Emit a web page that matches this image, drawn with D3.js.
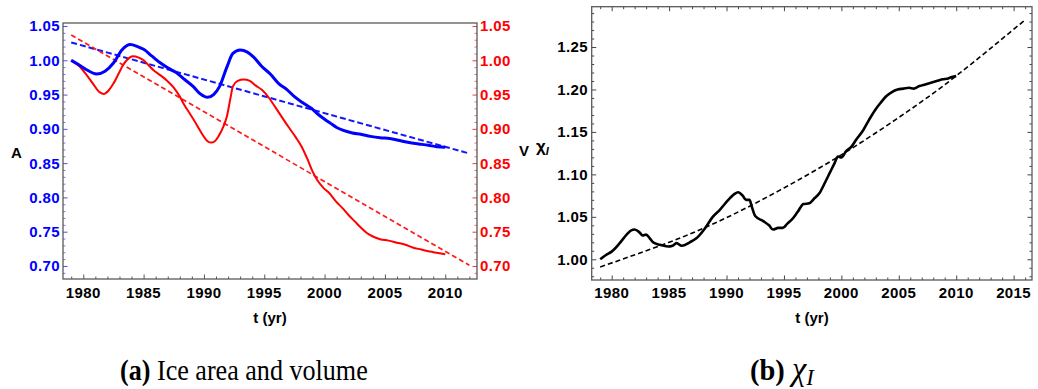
<!DOCTYPE html>
<html>
<head>
<meta charset="utf-8">
<script src="https://cdn.jsdelivr.net/npm/d3@7"></script>
<style>
  body { margin: 0; background: #fff; }
  text { font-family: "Liberation Sans", Arial, sans-serif; }
</style>
</head>
<body>
<svg id="fig" width="1038" height="389"></svg>
<script>

// ---- data ----
var areaData = [[1979.0,1.000],[1979.5,0.995],[1980.2,0.987],[1981.1,0.980],[1981.8,0.984],[1982.5,0.996],
  [1983.2,1.015],[1983.9,1.023],[1984.5,1.020],[1985.0,1.016],[1985.7,1.006],[1986.4,0.996],[1987.0,0.989],
  [1987.7,0.982],[1988.4,0.972],[1989.1,0.962],[1989.7,0.951],[1990.3,0.946],[1990.8,0.950],[1991.3,0.962],
  [1991.9,0.990],[1992.4,1.010],[1993.0,1.015],[1993.6,1.012],[1994.1,1.005],[1994.8,0.991],[1995.5,0.980],
  [1996.2,0.966],[1996.9,0.957],[1997.5,0.947],[1998.2,0.938],[1998.9,0.930],[1999.4,0.922],[2000.0,0.914],
  [2000.5,0.908],[2001.0,0.902],[2001.5,0.898],[2002.3,0.894],[2003.0,0.892],[2003.8,0.889],[2004.6,0.887],
  [2005.4,0.886],[2006.2,0.883],[2007.0,0.880],[2007.8,0.878],[2008.6,0.876],[2009.3,0.874],[2010.0,0.873]];

var volData = [[1979.0,1.000],[1979.7,0.991],[1980.3,0.978],[1980.8,0.966],[1981.3,0.954],[1981.7,0.951],
  [1982.1,0.956],[1982.5,0.966],[1983.0,0.983],[1983.3,0.993],[1983.6,1.000],[1984.1,1.006],[1984.6,1.004],
  [1985.0,1.000],[1985.4,0.993],[1985.8,0.986],[1986.4,0.978],[1986.9,0.971],[1987.5,0.960],[1988.0,0.947],
  [1988.4,0.934],[1988.8,0.923],[1989.4,0.906],[1989.9,0.891],[1990.3,0.882],[1990.6,0.880],[1990.9,0.882],
  [1991.2,0.889],[1991.6,0.903],[1991.9,0.918],[1992.2,0.945],[1992.4,0.962],[1992.8,0.970],[1993.3,0.972],
  [1993.8,0.970],[1994.3,0.963],[1994.8,0.957],[1995.4,0.945],[1995.9,0.932],[1996.5,0.916],[1997.0,0.903],
  [1997.6,0.888],[1998.1,0.874],[1998.6,0.855],[1999.0,0.838],[1999.4,0.825],[1999.9,0.814],[2000.4,0.806],
  [2000.9,0.795],[2001.5,0.784],[2002.0,0.774],[2002.5,0.765],[2003.0,0.756],[2003.5,0.748],[2004.0,0.743],
  [2004.6,0.739],[2005.3,0.737],[2006.0,0.734],[2006.7,0.731],[2007.3,0.727],[2008.0,0.724],[2008.7,0.721],
  [2009.4,0.719],[2010.0,0.717]];

var areaFit = [[1979,1.026],[2012,0.864]];
var volFit  = [[1979,1.037],[2012,0.701]];

var chiData = [[1979.0,1.000],[1979.5,1.005],[1980.0,1.009],[1980.7,1.019],[1981.3,1.029],[1981.7,1.034],
  [1982.0,1.035],[1982.4,1.032],[1982.7,1.028],[1983.0,1.029],[1983.3,1.025],[1983.6,1.020],[1984.2,1.017],
  [1984.9,1.015],[1985.3,1.016],[1985.65,1.019],[1986.1,1.016],[1986.8,1.020],[1987.4,1.025],[1988.1,1.036],
  [1988.8,1.050],[1989.4,1.058],[1989.9,1.066],[1990.3,1.072],[1990.7,1.077],[1991.0,1.079],[1991.4,1.075],
  [1991.7,1.070],[1992.0,1.070],[1992.2,1.062],[1992.5,1.051],[1993.2,1.045],[1993.7,1.040],[1994.05,1.035],
  [1994.5,1.037],[1994.9,1.037],[1995.3,1.042],[1995.7,1.047],[1996.2,1.056],[1996.7,1.065],[1997.2,1.066],
  [1997.6,1.071],[1998.1,1.078],[1998.6,1.091],[1999.0,1.102],[1999.4,1.113],[1999.7,1.121],[2000.0,1.120],
  [2000.4,1.127],[2000.9,1.133],[2001.3,1.141],[2001.9,1.152],[2002.4,1.164],[2002.9,1.175],[2003.4,1.184],
  [2003.9,1.192],[2004.4,1.197],[2004.9,1.200],[2005.4,1.201],[2005.9,1.202],[2006.3,1.201],[2006.8,1.204],
  [2007.3,1.206],[2007.8,1.208],[2008.3,1.210],[2008.8,1.212],[2009.3,1.213],[2009.7,1.215],[2010.0,1.216]];

var chiFit = [[1979,0.991],[1985,1.020],[1990,1.049],[1995,1.084],[2000,1.123],[2005,1.167],[2010,1.216],[2016,1.282]];

var yearTicksA = [1980,1985,1990,1995,2000,2005,2010];
var yearTicksB = [1980,1985,1990,1995,2000,2005,2010,2015];
var valTicksA  = [0.70,0.75,0.80,0.85,0.90,0.95,1.00,1.05];
var valTicksB  = [1.00,1.05,1.10,1.15,1.20,1.25];

var svg = d3.select("#fig");
var fmt = d3.format(".2f");

function minor_list(lo, hi, step, majors){
    var res = [];
    for( var i = Math.round(lo/step); i <= Math.round(hi/step); i++ ){
        var v = +(i*step).toFixed(4);
        if( majors.indexOf(v) < 0 ) res.push(v);
    }
    return res;
}

// inward pointing ticks (mathematica frame style)
function draw_ticks( kind, scale, vals, len, x0, y0, color ){
    var g = svg.append("g")
        .attr("transform", "translate(" + x0 + "," + y0 + ")")
        .call( kind(scale).tickValues(vals).tickSize(-len).tickFormat("") );
    g.select(".domain").remove();
    g.selectAll("line").attr("stroke", color).attr("stroke-width", 1);
    return g;
}

function draw_labels( vals, xf, yf, txt, color, anchor, dy ){
    svg.append("g").selectAll("text")
        .data(vals)
        .enter().append("text")
        .attr("x", xf).attr("y", yf)
        .attr("dy", dy)
        .attr("text-anchor", anchor)
        .style("font-size", "15px")
        .style("font-weight", "bold")
        .style("letter-spacing", "0.4px")
        .style("fill", color)
        .text(txt);
}

function draw_line( data, x, y, color, width, dash, curve ){
    var line = d3.line().curve(curve || d3.curveMonotoneX)
        .x(function(d){ return x(d[0]); })
        .y(function(d){ return y(d[1]); });
    var p = svg.append("path")
        .attr("d", line(data))
        .attr("fill", "none")
        .attr("stroke", color)
        .attr("stroke-width", width)
        .attr("stroke-linejoin", "round");
    if( dash ) p.attr("stroke-dasharray", dash);
    return p;
}

// ================= panel (a) =================
var xA = d3.scaleLinear().domain([1978.32, 2012.63]).range([63, 477]);
var yA = d3.scaleLinear().domain([0.681, 1.0544]).range([279, 23]);

var yrMinorA = minor_list(1979, 2012, 1, yearTicksA);
var vMinorA  = minor_list(0.69, 1.05, 0.01, valTicksA);

draw_ticks( d3.axisBottom, xA, yearTicksA, 4.5, 0, 279, "#555" );
draw_ticks( d3.axisBottom, xA, yrMinorA, 2.5, 0, 279, "#555" );
draw_ticks( d3.axisLeft, yA, valTicksA, 4.5, 63, 0, "#4d4dff" );
draw_ticks( d3.axisLeft, yA, vMinorA, 2.5, 63, 0, "#7a7aff" );
draw_ticks( d3.axisRight, yA, valTicksA, 4.5, 477, 0, "#ff3030" );
draw_ticks( d3.axisRight, yA, vMinorA, 2.5, 477, 0, "#ff6a6a" );

svg.append("rect").attr("x", 63).attr("y", 23).attr("width", 414).attr("height", 256)
    .attr("fill", "none").attr("stroke", "#5a5a5a").attr("stroke-width", 1.3);

draw_labels( valTicksA, 60, function(d){ return yA(d); }, fmt, "#0000ff", "end", "0.36em" );
draw_labels( valTicksA, 480, function(d){ return yA(d); }, fmt, "#ff0000", "start", "0.36em" );
draw_labels( yearTicksA, function(d){ return xA(d); }, 298, function(d){ return d; }, "#000", "middle", 0 );

draw_line( areaFit, xA, yA, "#1414ff", 2, "6,3" );
draw_line( volFit, xA, yA, "#ff1a1a", 1.7, "5,3" );
draw_line( volData, xA, yA, "#ff0000", 2 );
draw_line( areaData, xA, yA, "#0000ff", 3 );

svg.append("text").attr("x", 11).attr("y", 158)
    .style("font-size", "15px").style("font-weight", "bold").text("A");
svg.append("text").attr("x", 519).attr("y", 156)
    .style("font-size", "15px").style("font-weight", "bold").text("V");
svg.append("text").attr("x", 270).attr("y", 323).attr("text-anchor", "middle")
    .style("font-size", "15px").style("font-weight", "bold").text("t (yr)");

// ================= panel (b) =================
var xB = d3.scaleLinear().domain([1978.26, 2016.6]).range([591.7, 1032]);
var yB = d3.scaleLinear().domain([0.9756, 1.2975]).range([280, 6.7]);

var yrMinorB = minor_list(1979, 2016, 1, yearTicksB);
var vMinorB  = minor_list(0.98, 1.29, 0.01, valTicksB);

draw_ticks( d3.axisBottom, xB, yearTicksB, 4.5, 0, 280, "#444" );
draw_ticks( d3.axisBottom, xB, yrMinorB, 2.5, 0, 280, "#444" );
draw_ticks( d3.axisTop, xB, yearTicksB, 4.5, 0, 6.7, "#444" );
draw_ticks( d3.axisTop, xB, yrMinorB, 2.5, 0, 6.7, "#444" );
draw_ticks( d3.axisLeft, yB, valTicksB, 4.5, 591.7, 0, "#444" );
draw_ticks( d3.axisLeft, yB, vMinorB, 2.5, 591.7, 0, "#444" );
draw_ticks( d3.axisRight, yB, valTicksB, 4.5, 1032, 0, "#444" );
draw_ticks( d3.axisRight, yB, vMinorB, 2.5, 1032, 0, "#444" );

svg.append("rect").attr("x", 591.7).attr("y", 6.7).attr("width", 440.3).attr("height", 273.3)
    .attr("fill", "none").attr("stroke", "#5a5a5a").attr("stroke-width", 1.3);

draw_labels( valTicksB, 588, function(d){ return yB(d); }, fmt, "#000", "end", "0.36em" );
draw_labels( yearTicksB, function(d){ return xB(d); }, 298, function(d){ return d; }, "#000", "middle", 0 );

draw_line( chiFit, xB, yB, "#000", 1.6, "5,3", d3.curveNatural );
draw_line( chiData, xB, yB, "#000", 2.6 );

var chiLab = svg.append("text").attr("x", 536).attr("y", 152)
    .style("font-size", "17px").style("font-weight", "bold").text("χ");
chiLab.append("tspan").attr("dy", 3).style("font-size", "11px").style("font-style", "italic").text("I");

svg.append("text").attr("x", 812).attr("y", 323).attr("text-anchor", "middle")
    .style("font-size", "15px").style("font-weight", "bold").text("t (yr)");

// ================= captions (condensed serif) =================
var capA = svg.append("text")
    .attr("transform", "translate(120,380) scale(0.87,1)")
    .style("font-family", "'Liberation Serif', serif").style("font-size", "30px");
capA.append("tspan").style("font-weight", "bold").text("(a)");
capA.append("tspan").text(" Ice area and volume");

var capB = svg.append("text")
    .attr("transform", "translate(750,380) scale(0.95,1)")
    .style("font-family", "'Liberation Serif', serif").style("font-size", "30px");
capB.append("tspan").style("font-weight", "bold").text("(b)");
capB.append("tspan").text(" ");
capB.append("tspan").style("font-style", "italic").style("font-size", "34px").text("χ");
capB.append("tspan").attr("dy", 5).style("font-style", "italic").style("font-size", "24px").text("I");

</script>
</body>
</html>
